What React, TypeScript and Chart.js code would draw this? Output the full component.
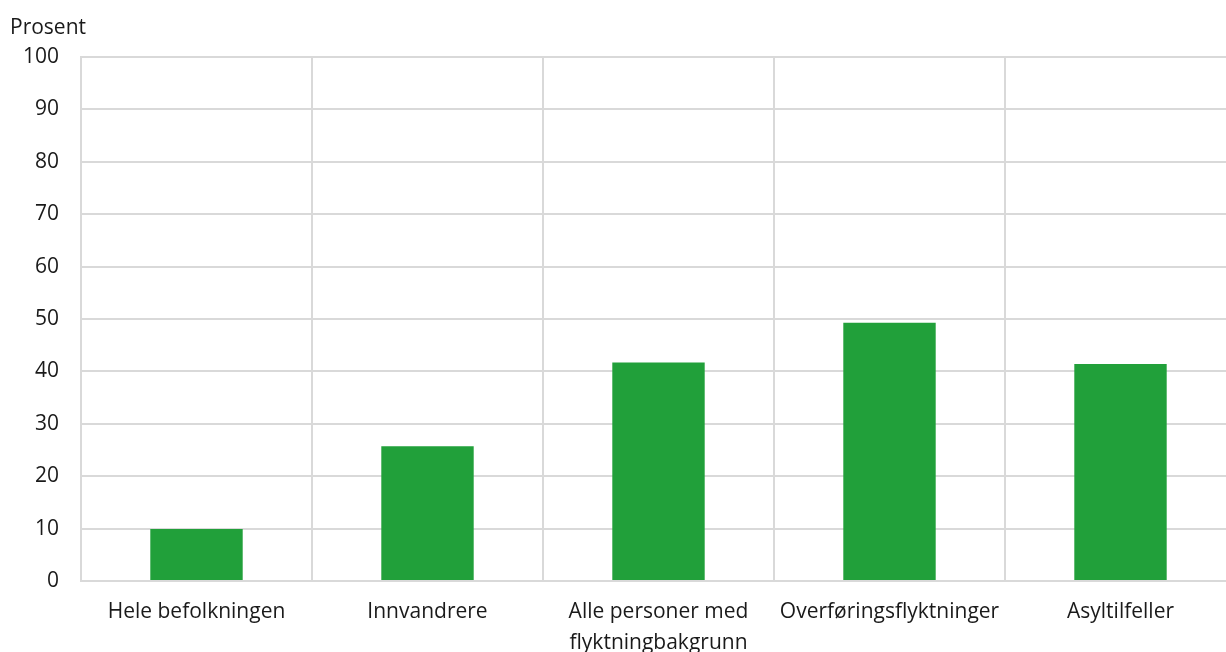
import React, { useEffect, useRef } from "react";
import { Chart, registerables } from "chart.js";

Chart.register(...registerables);

const categories: (string | string[])[] = [
  "Hele befolkningen",
  "Innvandrere",
  ["Alle personer med", "flyktningbakgrunn"],
  "Overføringsflyktninger",
  "Asyltilfeller",
];
const values: number[] = [9.9, 25.7, 41.7, 49.3, 41.4];
const yTitle = "Prosent";
const yMin = 0;
const yMax = 100;
const yStep = 10;

const FONT = "'Open Sans', 'Noto Sans', sans-serif";
const FS = 21;

export default function App() {
  const ref = useRef<HTMLCanvasElement | null>(null);

  useEffect(() => {
    if (!ref.current) return;
    const titlePlugin = {
      id: "yTitle",
      afterDraw(chart: any) {
        const ctx = chart.ctx;
        ctx.save();
        ctx.font = `${FS}px ${FONT}`;
        ctx.fillStyle = "#1a1a1a";
        ctx.textAlign = "left";
        ctx.textBaseline = "middle";
        ctx.fillText(yTitle, 10, 28);
        ctx.restore();
      },
    };
    const chart = new Chart(ref.current, {
      type: "bar",
      data: {
        labels: categories,
        datasets: [
          {
            data: values,
            backgroundColor: "#21a03a",
            borderWidth: 0,
            barPercentage: 0.4,
            categoryPercentage: 1,
          },
        ],
      },
      options: {
        animation: false,
        responsive: true,
        maintainAspectRatio: false,
        layout: { padding: { top: 57, right: 4, bottom: 0, left: 0 } },
        plugins: {
          legend: { display: false },
          tooltip: { enabled: false },
        },
        scales: {
          x: {
            offset: true,
            grid: {
              offset: true,
              color: "#d9d9d9",
              lineWidth: 2,
              drawTicks: false,
            },
            border: { display: true, color: "#d9d9d9", width: 2 },
            ticks: {
              font: { family: FONT, size: FS, lineHeight: 1.46 },
              color: "#1a1a1a",
              padding: 16,
              maxRotation: 0,
              autoSkip: false,
            },
            afterFit(scale: any) {
              scale.height = 71;
            },
          },
          y: {
            min: yMin,
            max: yMax,
            grid: { color: "#d9d9d9", lineWidth: 2, drawTicks: false },
            border: { display: true, color: "#d9d9d9", width: 2 },
            ticks: {
              stepSize: yStep,
              font: { family: FONT, size: FS },
              color: "#1a1a1a",
              padding: 22,
            },
            afterFit(scale: any) {
              scale.width = 81;
            },
          },
        },
      },
      plugins: [titlePlugin],
    });
    return () => chart.destroy();
  }, []);

  return (
    <div
      style={{
        position: "fixed",
        left: 0,
        top: 0,
        width: 1226,
        height: 652,
        overflow: "hidden",
        background: "#fff",
      }}
    >
      <div style={{ position: "relative", width: 1240, height: 652 }}>
        <canvas ref={ref} />
      </div>
    </div>
  );
}
